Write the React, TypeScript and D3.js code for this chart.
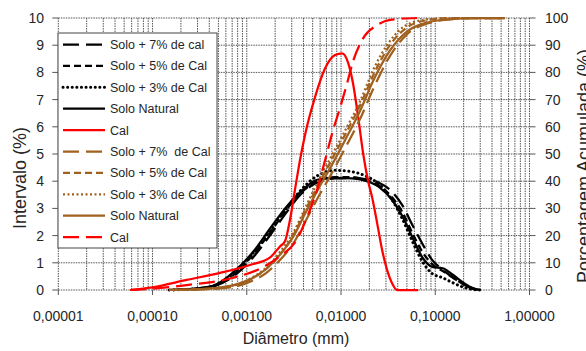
import React from 'react';
import * as d3 from 'd3';

// diameters (mm) shared by the black "intervalo" curves
const soloDiam = [0.00015, 0.0003, 0.00046, 0.00072, 0.0012, 0.0018, 0.0027, 0.0037, 0.0056, 0.0087, 0.013, 0.018, 0.025, 0.035, 0.045, 0.057, 0.073, 0.093, 0.12, 0.155, 0.2, 0.25, 0.3];
const int7 = [0, 0.04, 0.15, 0.5, 1.25, 2.05, 2.9, 3.5, 3.95, 4.1, 4.12, 4.08, 3.95, 3.6, 3.1, 2.4, 1.7, 1.1, 0.75, 0.45, 0.2, 0.05, 0];
const int5 = [0, 0.05, 0.16, 0.55, 1.35, 2.15, 3.0, 3.55, 4.0, 4.15, 4.15, 4.05, 3.85, 3.4, 2.85, 2.1, 1.4, 0.95, 0.7, 0.45, 0.2, 0.05, 0];
const int3 = [0, 0.05, 0.18, 0.6, 1.4, 2.2, 3.05, 3.65, 4.2, 4.4, 4.35, 4.2, 3.9, 3.3, 2.6, 1.8, 1.05, 0.6, 0.45, 0.26, 0.1, 0.02, 0];
const intNat = [0, 0.06, 0.18, 0.65, 1.45, 2.3, 3.1, 3.6, 4.05, 4.12, 4.1, 4.02, 3.8, 3.3, 2.7, 1.95, 1.2, 0.85, 0.8, 0.55, 0.26, 0.07, 0];

// cal interval curve
const calDiam = [0.000058, 0.0001, 0.00023, 0.00052, 0.00108, 0.00177, 0.00225, 0.00255, 0.00288, 0.00325, 0.00368, 0.00415, 0.00531, 0.00678, 0.00865, 0.0103, 0.0119, 0.0134, 0.0152, 0.0172, 0.0194, 0.0214, 0.0242, 0.0273, 0.0308, 0.0348, 0.0394, 0.0658];
const calInt = [0, 0.1, 0.37, 0.63, 0.92, 1.2, 1.6, 1.8, 2.6, 3.7, 4.8, 5.7, 7.1, 8.15, 8.64, 8.7, 8.35, 7.6, 6.36, 5.0, 4.0, 3.4, 2.45, 1.47, 0.74, 0.25, 0, 0];

// cumulative curves (right axis)
const cumDiam = [0.00015, 0.00032, 0.00067, 0.00117, 0.00164, 0.00225, 0.0031, 0.00415, 0.0057, 0.008, 0.011, 0.016, 0.022, 0.033, 0.05, 0.082, 0.144, 0.265, 0.55];
const cum7 = [0, 0.2, 1.0, 3.5, 6.5, 11, 17, 25, 34, 43, 52, 63, 74, 86, 94, 98, 99.5, 100, 100];
const cum5 = [0, 0.3, 1.4, 4.5, 8, 13, 20, 29, 38.5, 48, 57, 68, 79, 90, 96.5, 99.2, 100, 100, 100];
const cum3 = [0, 0.3, 1.5, 4.8, 8.5, 14, 21, 30, 40, 49.5, 58.5, 69.5, 81, 91.5, 97.5, 99.5, 100, 100, 100];
const cumNat = [0, 0.3, 1.5, 4.5, 8, 13, 19.5, 28, 37, 46, 55, 66, 77, 88, 95, 98.3, 99.6, 100, 100];

const calCumDiam = [0.000058, 0.0001, 0.00023, 0.0007, 0.0015, 0.00216, 0.00352, 0.00415, 0.00557, 0.00678, 0.00824, 0.00977, 0.0116, 0.0134, 0.0168, 0.0242, 0.0332, 0.0643];
const calCum = [0, 0.5, 1.8, 4.4, 8.5, 12, 19.5, 25, 36.8, 47.8, 58.8, 67, 76, 84, 92, 97.4, 99.3, 100];

const xTickValues = [0.00001, 0.0001, 0.001, 0.01, 0.1, 1];
const leftTicks = [0, 1, 2, 3, 4, 5, 6, 7, 8, 9, 10];
const rightTicks = [0, 10, 20, 30, 40, 50, 60, 70, 80, 90, 100];

const BLACK = '#000';
const RED = '#ff0000';
const BROWN = '#a0601f';

const LONG = '16,7';
const DASH = '7,4';
const DOT = '0.1,4.5';

const FONT = '"Liberation Sans", Arial, sans-serif';

export default function App() {
  const W = 586, H = 351;
  const x = d3.scaleLog().domain([1e-5, 1]).range([58.3, 529.5]);
  const yL = d3.scaleLinear().domain([0, 10]).range([290, 18]);
  const yR = d3.scaleLinear().domain([0, 100]).range([290, 18]);

  const mkLine = (ys: d3.ScaleLinear<number, number>) =>
    d3.line<[number, number]>().x(d => x(d[0])).y(d => ys(d[1])).curve(d3.curveMonotoneX);
  const lineL = mkLine(yL);
  const lineR = mkLine(yR);
  const zip = (a: number[], b: number[]) => a.map((v, i) => [v, b[i]] as [number, number]);

  // legend entries, same order as reference
  const series = [
    { label: 'Solo + 7% de cal', color: BLACK, dash: LONG, cap: 'butt', path: lineL(zip(soloDiam, int7)) },
    { label: 'Solo + 5% de Cal', color: BLACK, dash: DASH, cap: 'butt', path: lineL(zip(soloDiam, int5)) },
    { label: 'Solo + 3% de Cal', color: BLACK, dash: DOT, cap: 'round', width: 3, path: lineL(zip(soloDiam, int3)) },
    { label: 'Solo Natural', color: BLACK, dash: null, cap: 'butt', path: lineL(zip(soloDiam, intNat)) },
    { label: 'Cal', color: RED, dash: null, cap: 'butt', path: lineL(zip(calDiam, calInt)) },
    { label: 'Solo + 7%  de Cal', color: BROWN, dash: LONG, cap: 'butt', path: lineR(zip(cumDiam, cum7)) },
    { label: 'Solo + 5% de Cal', color: BROWN, dash: DASH, cap: 'butt', path: lineR(zip(cumDiam, cum5)) },
    { label: 'Solo + 3% de Cal', color: BROWN, dash: '2,2.5', cap: 'butt', path: lineR(zip(cumDiam, cum3)) },
    { label: 'Solo Natural', color: BROWN, dash: null, cap: 'butt', path: lineR(zip(cumDiam, cumNat)) },
    { label: 'Cal', color: RED, dash: LONG, cap: 'butt', path: lineR(zip(calCumDiam, calCum)) },
  ];

  const gridX = x.ticks();
  const fmt = (d: number) => d3.format('.5f')(d).replace('.', ',');
  const [x0, x1] = x.range();

  return (
    <svg width={W} height={H} style={{ position: 'absolute', left: 0, top: 0, background: '#fff' }} fontFamily={FONT}>
      {/* grid */}
      <g stroke="#555" strokeWidth={1} strokeDasharray="1.5,1">
        {gridX.map(t => <line key={'gx' + t} x1={x(t)} x2={x(t)} y1={yL(10)} y2={yL(0)} />)}
        {leftTicks.map(t => <line key={'gy' + t} x1={x0} x2={x1} y1={yL(t)} y2={yL(t)} />)}
      </g>
      {/* tick marks */}
      <g stroke="#555" strokeWidth={1}>
        {leftTicks.map(t => <line key={'tl' + t} x1={x0 - 6} x2={x0} y1={yL(t)} y2={yL(t)} />)}
        {rightTicks.map(t => <line key={'tr' + t} x1={x1} x2={x1 + 6} y1={yR(t)} y2={yR(t)} />)}
        {xTickValues.map(t => <line key={'tb' + t} x1={x(t)} x2={x(t)} y1={yL(0)} y2={yL(0) + 5} />)}
      </g>
      {/* tick labels */}
      <g fontSize={14} fill="#262626">
        {leftTicks.map(t => <text key={'ll' + t} x={44} y={yL(t)} dy="0.35em" textAnchor="end">{t}</text>)}
        {rightTicks.map(t => <text key={'rl' + t} x={545} y={yR(t)} dy="0.35em">{t}</text>)}
        {xTickValues.map(t => <text key={'bl' + t} x={x(t)} y={321} textAnchor="middle">{fmt(t)}</text>)}
      </g>
      {/* axis titles */}
      <g fill="#262626">
        <text transform="translate(26,178) rotate(-90)" textAnchor="middle" fontSize={18}>Intervalo (%)</text>
        <text transform="translate(590,166) rotate(-90)" textAnchor="middle" fontSize={18}>Porcentagem Acumulada (%)</text>
        <text x={296} y={344} textAnchor="middle" fontSize={16}>Diâmetro (mm)</text>
      </g>
      {/* curves */}
      <g fill="none">
        {series.map((s, i) => (
          <path key={'s' + i} d={s.path || ''} stroke={s.color} strokeWidth={s.width || 2.25}
            strokeDasharray={s.dash || undefined} strokeLinecap={s.cap as any} />
        ))}
      </g>
      {/* legend */}
      <g>
        <rect x={58} y={33} width={159} height={215} fill="#fff" stroke="#444" strokeWidth={1} />
        {series.map((s, i) => {
          const ly = 44.5 + i * 21.4;
          return (
            <g key={'lg' + i}>
              <line x1={63} x2={105} y1={ly} y2={ly} stroke={s.color} strokeWidth={s.width || 2.25}
                strokeDasharray={s.dash || undefined} strokeLinecap={s.cap as any} />
              <text x={110} y={ly} dy="0.36em" fontSize={12.5} fill="#262626" style={{ whiteSpace: 'pre' }}>{s.label}</text>
            </g>
          );
        })}
      </g>
    </svg>
  );
}
